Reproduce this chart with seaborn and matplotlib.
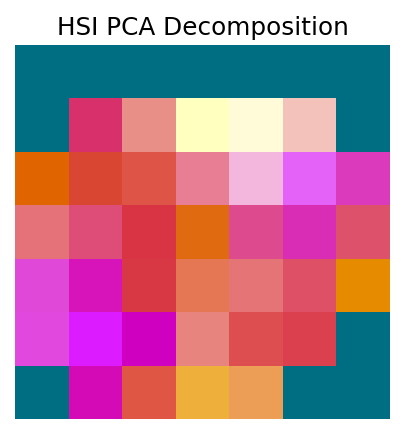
import numpy as np
import pandas as pd
import matplotlib
matplotlib.use("Agg")
import matplotlib.pyplot as plt
import seaborn as sns
from matplotlib.colors import ListedColormap

# RGB of each pixel of the PCA false-colour image, row by row
TEAL = "#006e82"
row0 = [TEAL, TEAL, TEAL, TEAL, TEAL, TEAL, TEAL]
row1 = [TEAL, "#d8306a", "#e89088", "#ffffc0", "#fffad8", "#f3c2ba", TEAL]
row2 = ["#e06400", "#d94632", "#de5548", "#e77e94", "#f3b6dc", "#e562f8", "#dc3abc"]
row3 = ["#e47278", "#de4c78", "#d83444", "#e06a10", "#de4a8e", "#d92db5", "#dd526a"]
row4 = ["#e048d8", "#d614ba", "#d83844", "#e67755", "#e47476", "#de5066", "#e68a00"]
row5 = ["#e048de", "#dc1cff", "#d000c0", "#e8847e", "#dd4e50", "#da404e", TEAL]
row6 = [TEAL, "#d30ab5", "#df5744", "#eeb03a", "#ec9d56", TEAL, TEAL]

rows = [row0, row1, row2, row3, row4, row5, row6]

# map each colour to an index so the heatmap can draw it
flat = pd.Series([c for r in rows for c in r])
codes, uniques = pd.factorize(flat)
grid = codes.reshape(len(rows), len(row0))
cmap = ListedColormap(list(uniques))

fig = plt.figure(figsize=(4.04, 4.35), dpi=100)
ax = fig.add_axes([15 / 404, 15 / 435, 375 / 404, 374 / 435])
sns.heatmap(grid, cmap=cmap, vmin=-0.5, vmax=len(uniques) - 0.5,
            cbar=False, square=False, xticklabels=False, yticklabels=False, ax=ax)
ax.set_title("HSI PCA Decomposition", fontsize=17.8, pad=8)
ax.axis("off")

fig.savefig("out.png", dpi=100)
